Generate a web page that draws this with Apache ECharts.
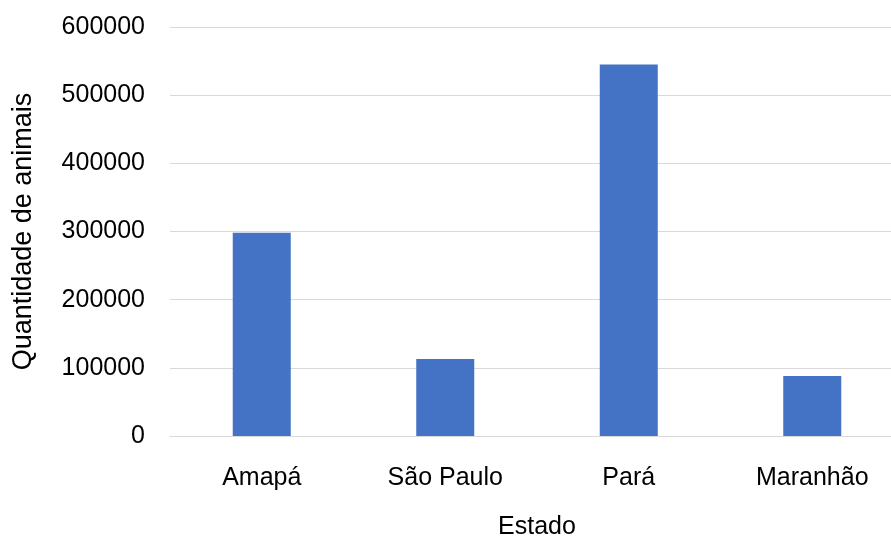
<!DOCTYPE html>
<html>
<head>
<meta charset="utf-8">
<script src="https://cdn.jsdelivr.net/npm/echarts@6/dist/echarts.min.js"></script>
<style>
  html, body { margin: 0; padding: 0; background: #fff; }
  #chart { width: 891px; height: 537px; }
</style>
</head>
<body>
<div id="chart"></div>
<script>
// States and number of animals per state
const estados = ['Amapá', 'São Paulo', 'Pará', 'Maranhão'];
const quantidades = [298000, 113000, 545000, 88000];
const yTicks = [0, 100000, 200000, 300000, 400000, 500000, 600000];

const chart = echarts.init(document.getElementById('chart'), null, { renderer: 'canvas' });
const font = 'Liberation Sans, Arial, sans-serif';

chart.setOption({
  animation: false,
  backgroundColor: '#ffffff',
  grid: { left: 170, top: 27, width: 734, height: 409, containLabel: false, outerBoundsMode: 'none' },
  xAxis: {
    type: 'category',
    data: estados,
    name: 'Estado',
    nameLocation: 'middle',
    nameGap: 79,
    nameTextStyle: { fontFamily: font, fontSize: 25, color: '#000' },
    axisLine: { show: true, lineStyle: { color: '#d9d9d9', width: 1 } },
    axisTick: { show: false },
    axisLabel: { fontFamily: font, fontSize: 25, color: '#000', margin: 30 }
  },
  yAxis: {
    type: 'value',
    min: yTicks[0],
    max: yTicks[yTicks.length - 1],
    interval: yTicks[1] - yTicks[0],
    name: 'Quantidade de animais',
    nameLocation: 'middle',
    nameGap: 133,
    nameRotate: 90,
    nameTextStyle: { fontFamily: font, fontSize: 27, color: '#000' },
    axisLine: { show: false },
    axisTick: { show: false },
    axisLabel: {
      fontFamily: font, fontSize: 25, color: '#000', margin: 25,
      formatter: (v) => String(v)
    },
    splitLine: { lineStyle: { color: '#d9d9d9', width: 1 } }
  },
  series: [{
    type: 'bar',
    data: quantidades,
    barWidth: 58,
    itemStyle: { color: '#4472c4' }
  }]
});
</script>
</body>
</html>
